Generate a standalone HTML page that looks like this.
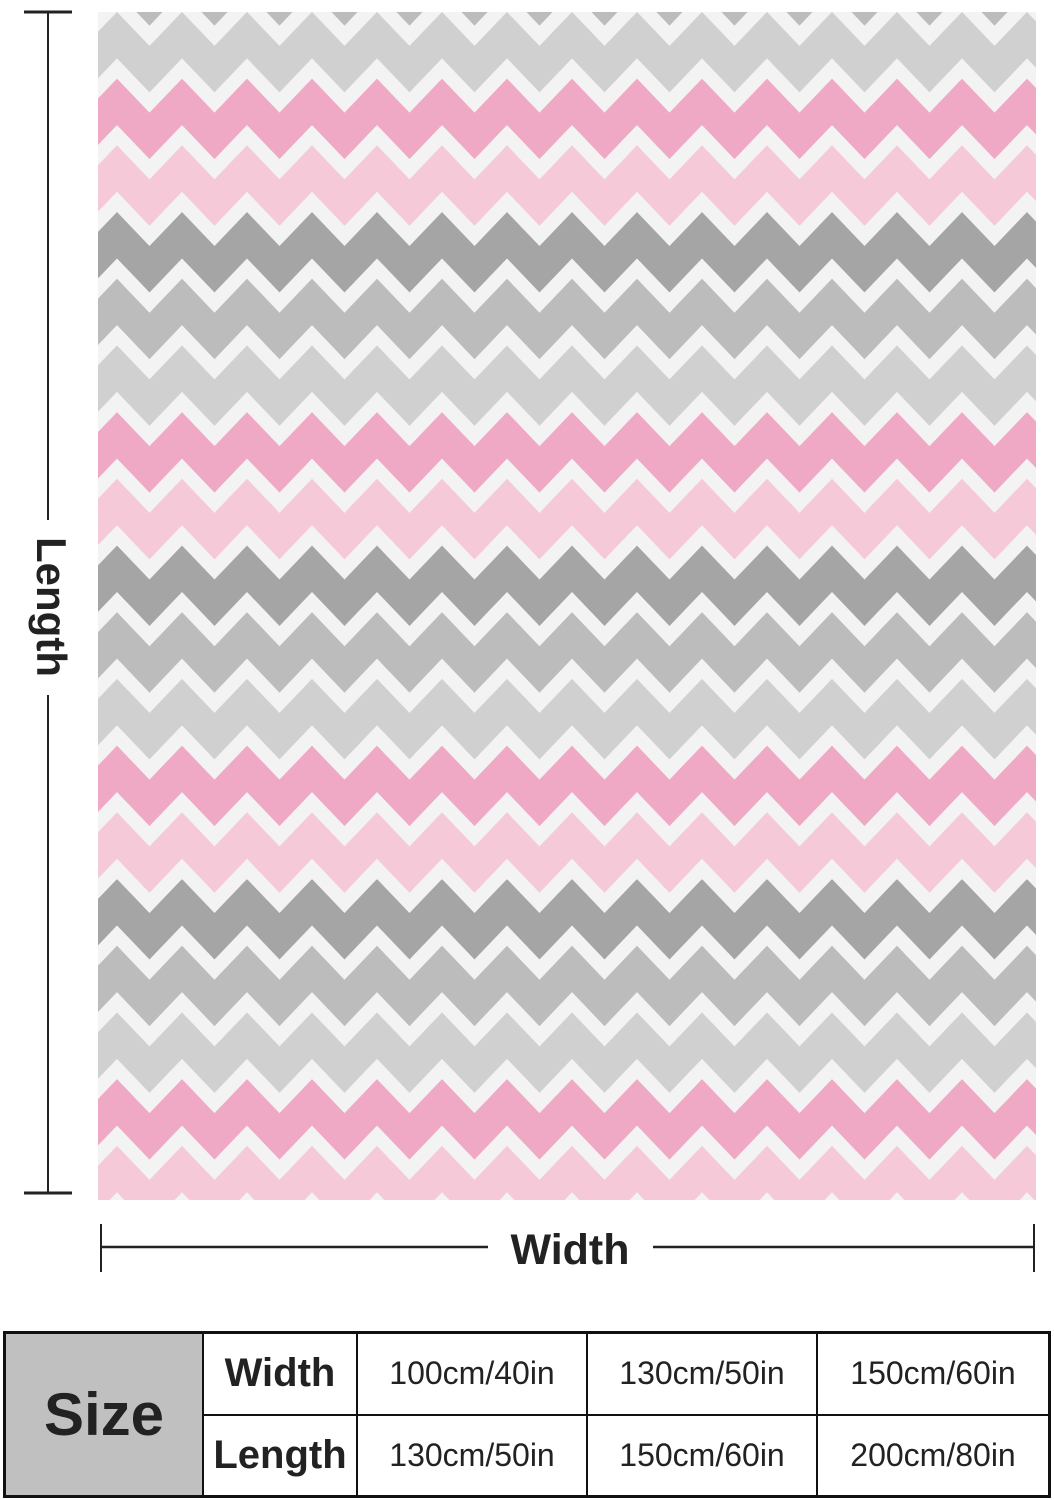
<!DOCTYPE html>
<html><head><meta charset="utf-8"><style>
html,body{margin:0;padding:0;background:#fff;}
body{width:1054px;height:1500px;position:relative;overflow:hidden;font-family:"Liberation Sans",sans-serif;}
.abs{position:absolute;}
table{position:absolute;left:3px;top:1331px;width:1048px;height:167px;border-collapse:collapse;border:3px solid #111;}
td{border:2px solid #111;text-align:center;color:#222;font-size:32px;padding:0;}
td.h{font-weight:bold;font-size:40px;}
</style></head><body>
<svg class="abs" style="left:0;top:0" width="1054" height="1300" id="s">
<defs><clipPath id="c"><rect x="98" y="12" width="938" height="1188"/></clipPath></defs>
<g id="g" clip-path="url(#c)"></g>
<line x1="48" y1="12" x2="48" y2="520" stroke="#222" stroke-width="2"/>
<line x1="48" y1="695" x2="48" y2="1193" stroke="#222" stroke-width="2"/>
<line x1="24" y1="12" x2="72" y2="12" stroke="#222" stroke-width="3"/>
<line x1="24" y1="1193" x2="72" y2="1193" stroke="#222" stroke-width="3"/>
<text x="48" y="607" transform="rotate(90 48 607)" text-anchor="middle" dominant-baseline="middle" font-family="Liberation Sans, sans-serif" font-weight="bold" font-size="42" fill="#222">Length</text>
<line x1="101" y1="1247" x2="488" y2="1247" stroke="#222" stroke-width="2.5"/>
<line x1="653" y1="1247" x2="1034" y2="1247" stroke="#222" stroke-width="2.5"/>
<line x1="101" y1="1224" x2="101" y2="1272" stroke="#222" stroke-width="2"/>
<line x1="1034" y1="1224" x2="1034" y2="1272" stroke="#222" stroke-width="2"/>
<text x="570" y="1264" text-anchor="middle" font-family="Liberation Sans, sans-serif" font-weight="bold" font-size="43" fill="#222">Width</text>
</svg>
<table>
<tr><td rowspan="2" style="width:196px;background:#c0c0c0;font-weight:bold;font-size:60px;">Size</td>
<td class="h" style="width:152px">Width</td><td style="width:228px">100cm/40in</td><td style="width:228px">130cm/50in</td><td>150cm/60in</td></tr>
<tr><td class="h">Length</td><td>130cm/50in</td><td>150cm/60in</td><td>200cm/80in</td></tr>
</table>
<script>
var g=document.getElementById('g');var ns='http://www.w3.org/2000/svg';
var cols=['#f0a9c5','#f5c9d8','#a5a5a5','#bcbcbc','#d0d0d0'];
var P=65,A=34,x0=117,B=66.7,y0=402;
function pts(y){var a=[];for(var x=x0-P*3;x<=1100;x+=P/2){var up=Math.round((x-x0)/(P/2))%2===0;a.push([x,up?y:y+A]);}return a;}
for(var k=-8;k<=13;k++){var y=y0+k*B;var t=pts(y),b=pts(y+B).reverse();
var p=document.createElementNS(ns,'polygon');p.setAttribute('points',t.concat(b).map(function(q){return q.join(',')}).join(' '));
p.setAttribute('fill',cols[((k%5)+5)%5]);g.appendChild(p);}
for(var k=-8;k<=13;k++){var y=y0+k*B;var l=document.createElementNS(ns,'polyline');
l.setAttribute('points',pts(y).map(function(q){return q.join(',')}).join(' '));
l.setAttribute('fill','none');l.setAttribute('stroke','#f3f3f3');l.setAttribute('stroke-width','14');g.appendChild(l);}
</script>
</body></html>
